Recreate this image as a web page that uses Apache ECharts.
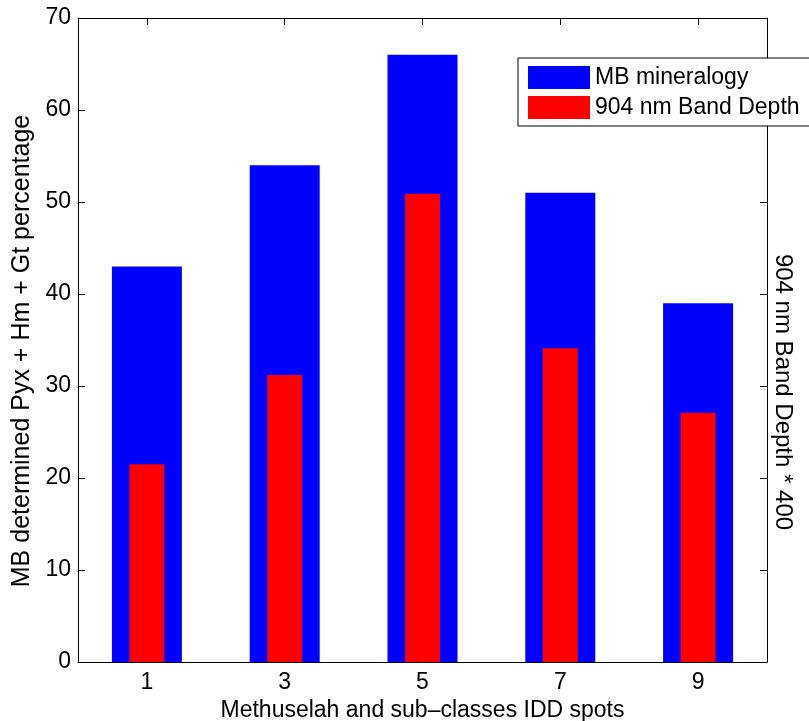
<!DOCTYPE html>
<html>
<head>
<meta charset="utf-8">
<script src="https://cdn.jsdelivr.net/npm/echarts@6/dist/echarts.min.js"></script>
<style>
  html, body { margin: 0; padding: 0; background: #fff; }
  #chart { width: 809px; height: 721px; }
</style>
</head>
<body>
<div id="chart"></div>
<script>
// IDD spots and values
const spots = [1, 3, 5, 7, 9];
const mbMineralogy = [43, 54, 66, 51, 39];
const bandDepth = [21.5, 31.2, 50.9, 34.1, 27.1];

const font = '"Liberation Sans", Arial, Helvetica, sans-serif';
const black = '#000';
const fs = 23;

const chart = echarts.init(document.getElementById('chart'));

function tick(extra) {
  return Object.assign({ show: true, inside: true, length: 7, lineStyle: { color: black, width: 1 } }, extra || {});
}
function axisLine() {
  return { show: true, onZero: false, lineStyle: { color: black, width: 1 } };
}

const option = {
  animation: false,
  backgroundColor: '#fff',
  grid: { left: 78, right: 42, top: 18, bottom: 59, outerBoundsMode: 'none', containLabel: false },
  legend: {
    orient: 'vertical',
    left: 518,
    top: 58,
    icon: 'rect',
    itemWidth: 62,
    itemHeight: 23,
    itemGap: 7,
    padding: [8, 10, 7, 10],
    borderColor: black,
    borderWidth: 1,
    backgroundColor: '#fff',
    textStyle: { fontFamily: font, fontSize: fs, color: black },
    itemStyle: { borderWidth: 0 },
    data: ['MB mineralogy', '904 nm Band Depth']
  },
  xAxis: [
    {
      type: 'value',
      min: 0,
      max: 10,
      position: 'bottom',
      axisLine: axisLine(),
      axisTick: tick({ customValues: spots }),
      axisLabel: { customValues: spots, fontFamily: font, fontSize: fs, color: black, margin: 9 },
      splitLine: { show: false },
      name: 'Methuselah and sub\u2013classes IDD spots',
      nameLocation: 'middle',
      nameGap: 33,
      nameTextStyle: { fontFamily: font, fontSize: fs, color: black }
    },
    {
      type: 'value',
      min: 0,
      max: 10,
      position: 'top',
      axisLine: axisLine(),
      axisTick: tick({ customValues: spots }),
      axisLabel: { show: false },
      splitLine: { show: false }
    }
  ],
  yAxis: [
    {
      type: 'value',
      min: 0,
      max: 70,
      interval: 10,
      position: 'left',
      axisLine: axisLine(),
      axisTick: tick(),
      axisLabel: { fontFamily: font, fontSize: fs, color: black, margin: 7 },
      splitLine: { show: false },
      name: 'MB determined Pyx + Hm + Gt percentage',
      nameLocation: 'middle',
      nameGap: 38,
      nameTextStyle: { fontFamily: font, fontSize: 25, color: black, padding: [0, 22, 0, 0] }
    },
    {
      type: 'value',
      min: 0,
      max: 70,
      interval: 10,
      position: 'right',
      axisLine: axisLine(),
      axisTick: tick(),
      axisLabel: { show: false },
      splitLine: { show: false },
      name: '904 nm Band Depth * 400',
      nameLocation: 'middle',
      nameRotate: -90,
      nameGap: 4,
      nameTextStyle: { fontFamily: font, fontSize: 24, color: black, padding: [0, 0, 0, 104] }
    }
  ],
  series: [
    {
      name: 'MB mineralogy',
      type: 'bar',
      xAxisIndex: 0,
      yAxisIndex: 0,
      barWidth: 70,
      itemStyle: { color: '#0000ff' },
      data: spots.map((x, i) => [x, mbMineralogy[i]])
    },
    {
      name: '904 nm Band Depth',
      type: 'bar',
      xAxisIndex: 1,
      yAxisIndex: 0,
      barWidth: 35,
      itemStyle: { color: '#ff0000' },
      data: spots.map((x, i) => [x, bandDepth[i]])
    }
  ]
};

chart.setOption(option);
</script>
</body>
</html>
